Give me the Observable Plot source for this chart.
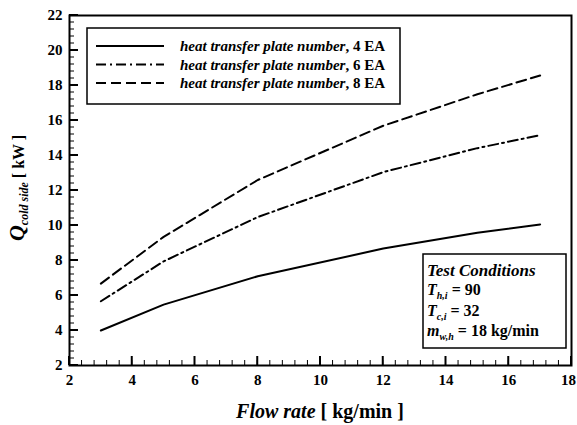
<!DOCTYPE html>
<html><head><meta charset="utf-8">
<script src="https://cdn.jsdelivr.net/npm/d3@7"></script>
<script src="https://cdn.jsdelivr.net/npm/@observablehq/plot@0.6"></script>
<style>
html,body{margin:0;padding:0;background:#fff;}
#wrap{position:relative;width:577px;height:425px;}
</style></head>
<body><div id="wrap"></div>
<script>
const flowRate = [3, 5, 8, 12, 15, 17];
const q4EA = [4.0, 5.48, 7.1, 8.68, 9.58, 10.06];
const q6EA = [5.67, 7.95, 10.48, 13.05, 14.42, 15.16];
const q8EA = [6.68, 9.35, 12.6, 15.7, 17.5, 18.57];
const seriesNames = ["heat transfer plate number", "heat transfer plate number", "heat transfer plate number"];
const seriesUnits = ["4 EA", "6 EA", "8 EA"];
const dashes = ["none", "10,4,2,4", "10,5"];
const xTicks = [2, 4, 6, 8, 10, 12, 14, 16, 18];
const yTicks = [2, 4, 6, 8, 10, 12, 14, 16, 18, 20, 22];
const conditions = [["T", "h,i", " = 90"], ["T", "c,i", " = 32"], ["m", "w,h", " = 18 kg/min"]];

const allSeries = [q4EA, q6EA, q8EA];
const rows = [];
allSeries.forEach((s, k) => s.forEach((v, i) => rows.push({x: flowRate[i], y: v, k})));

const minorX = d3.range(2, 18.001, 0.4);
const minorY = d3.range(2, 22.001, 0.4);

const W = 577, H = 425, ML = 69, MR = 6, MT = 15, MB = 60;
const font = '"Liberation Serif", "Times New Roman", serif';
const chart = Plot.plot({
  width: W, height: H,
  marginLeft: ML, marginRight: MR, marginTop: MT, marginBottom: MB,
  style: {fontFamily: font, fontSize: "15px", fontWeight: "bold", color: "#000", background: "#fff"},
  x: {domain: [2, 18]},
  y: {domain: [2, 22]},
  marks: [
    Plot.axisX(xTicks.slice(0, -1), {tickSize: 0, tickPadding: 9, label: null, fontSize: 15, fontWeight: "bold"}),
    Plot.axisX(xTicks.slice(-1), {tickSize: 0, tickPadding: 9, label: null, fontSize: 15, fontWeight: "bold", dx: -3}),
    Plot.axisY(yTicks, {tickSize: 0, tickPadding: 7, label: null, fontSize: 15, fontWeight: "bold"}),
    ...allSeries.map((s, k) => Plot.line(rows.filter(r => r.k === k), {
      x: "x", y: "y", stroke: "#000", strokeWidth: 2,
      strokeDasharray: dashes[k] === "none" ? null : dashes[k]
    })),
    Plot.frame({stroke: "#000", strokeWidth: 2})
  ]
});
document.getElementById("wrap").appendChild(chart);

const svg = d3.select(chart);
const sx = chart.scale("x"), sy = chart.scale("y");
const y0 = sy.apply(2), x0 = sx.apply(2);
// inward ticks drawn from the plot's own scales
const tg = svg.append("g").attr("stroke", "#000");
minorX.forEach(v => tg.append("line").attr("x1", sx.apply(v)).attr("x2", sx.apply(v)).attr("y1", y0).attr("y2", y0 - 5).attr("stroke-width", 1));
xTicks.forEach(v => tg.append("line").attr("x1", sx.apply(v)).attr("x2", sx.apply(v)).attr("y1", y0).attr("y2", y0 - 9).attr("stroke-width", 2));
minorY.forEach(v => tg.append("line").attr("y1", sy.apply(v)).attr("y2", sy.apply(v)).attr("x1", x0).attr("x2", x0 + 5).attr("stroke-width", 1));
yTicks.forEach(v => tg.append("line").attr("y1", sy.apply(v)).attr("y2", sy.apply(v)).attr("x1", x0).attr("x2", x0 + 9).attr("stroke-width", 2));

// Legend box
const lg = svg.append("g").attr("text-anchor", "start").attr("font-family", font);
lg.append("rect").attr("x", 87).attr("y", 28).attr("width", 313).attr("height", 76)
  .attr("fill", "#fff").attr("stroke", "#000").attr("stroke-width", 1.5);
seriesUnits.forEach((u, k) => {
  const y = 46 + k * 18.5;
  lg.append("line").attr("x1", 96).attr("x2", 164).attr("y1", y).attr("y2", y)
    .attr("stroke", "#000").attr("stroke-width", 2)
    .attr("stroke-dasharray", dashes[k] === "none" ? null : dashes[k]);
  const t = lg.append("text").attr("x", 180).attr("y", y + 5)
    .attr("font-size", 15).attr("font-weight", "bold").attr("fill", "#000");
  t.append("tspan").attr("font-style", "italic").text(seriesNames[k]);
  t.append("tspan").text(", " + u);
});
// Test conditions box
const cg = svg.append("g").attr("text-anchor", "start").attr("font-family", font);
cg.append("rect").attr("x", 423).attr("y", 254).attr("width", 143).attr("height", 94)
  .attr("fill", "#fff").attr("stroke", "#000").attr("stroke-width", 1.5);
cg.append("text").attr("x", 427).attr("y", 276).attr("font-size", 17).attr("font-weight", "bold")
  .attr("font-style", "italic").text("Test Conditions");
conditions.forEach((c, i) => {
  const y = 295 + i * 20.5;
  const t = cg.append("text").attr("x", 427).attr("y", y).attr("font-size", 16).attr("font-weight", "bold");
  t.append("tspan").attr("font-style", "italic").text(c[0]);
  t.append("tspan").attr("font-style", "italic").attr("font-size", 10).attr("dy", 4).text(c[1]);
  t.append("tspan").attr("dy", -4).text(c[2]);
});
// Axis labels
const xl = svg.append("text").attr("x", 320).attr("y", 418).attr("text-anchor", "middle")
  .attr("font-family", font).attr("font-size", 20).attr("font-weight", "bold");
xl.append("tspan").attr("font-style", "italic").text("Flow rate");
xl.append("tspan").text(" [ kg/min ]");
const yl = svg.append("text").attr("transform", "translate(24,188) rotate(-90)").attr("text-anchor", "middle")
  .attr("font-family", font).attr("font-size", 16).attr("font-weight", "bold");
yl.append("tspan").attr("font-style", "italic").attr("font-size", 22).text("Q");
yl.append("tspan").attr("font-style", "italic").attr("font-size", 12).attr("dy", 4).text("cold side");
yl.append("tspan").attr("dy", -4).text(" [ kW ]");
</script></body></html>
